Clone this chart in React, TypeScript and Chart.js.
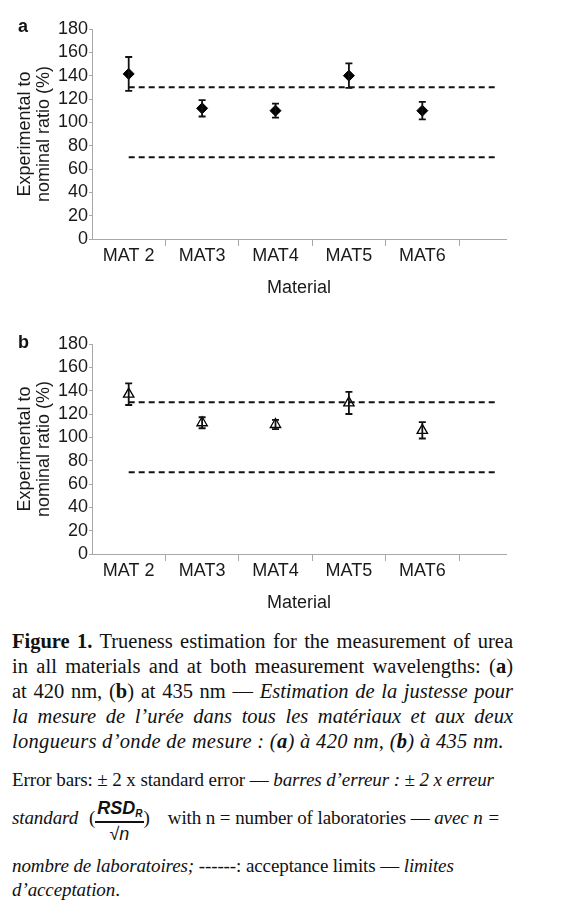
import React, { useEffect, useRef } from 'react';
import { Chart, registerables } from 'chart.js';

Chart.register(...registerables);

// ---- data ----
const categories = ['MAT 2', 'MAT3', 'MAT4', 'MAT5', 'MAT6'];
const meansA = [141.5, 112, 110, 140, 110];
const errorsA = [14.5, 7, 6, 10.5, 7.5];
const meansB = [137, 112.5, 111, 129.5, 106];
const errorsB = [9.3, 4.7, 4, 9.5, 7];
const acceptanceLimits = [130, 70];
const yMin = 0;
const yMax = 180;
const yStep = 20;
const xMax = 5.64;

const SANS = "'Liberation Sans', Arial, sans-serif";
const SERIF = "'Liberation Serif', 'Times New Roman', serif";
const AXIS_GREY = '#a8a8a8';

const errorBarPlugin = {
  id: 'errorBars',
  afterDatasetsDraw(chart: any) {
    const ctx = chart.ctx;
    const xs = chart.scales.x;
    const ys = chart.scales.y;
    chart.data.datasets.forEach((ds: any) => {
      if (!ds.errors) return;
      ds.data.forEach((p: any, i: number) => {
        const x = xs.getPixelForValue(p.x);
        const yt = ys.getPixelForValue(p.y + ds.errors[i]);
        const yb = ys.getPixelForValue(p.y - ds.errors[i]);
        ctx.save();
        ctx.strokeStyle = '#111';
        ctx.lineWidth = 1.8;
        ctx.beginPath();
        ctx.moveTo(x, yt);
        ctx.lineTo(x, yb);
        ctx.moveTo(x - 3.5, yt);
        ctx.lineTo(x + 3.5, yt);
        ctx.moveTo(x - 3.5, yb);
        ctx.lineTo(x + 3.5, yb);
        ctx.stroke();
        ctx.restore();
      });
    });
  },
};

function makeConfig(means: number[], errors: number[], filled: boolean): any {
  const points = categories.map((_, i) => ({ x: i + 0.5, y: means[i] }));
  const limitSets = acceptanceLimits.map((v) => ({
    type: 'line',
    data: [
      { x: 0.5, y: v },
      { x: categories.length + 0.5, y: v },
    ],
    borderColor: '#111',
    borderWidth: 2,
    borderDash: [6, 4],
    pointRadius: 0,
    fill: false,
  }));
  const half: number[] = [];
  for (let i = 0; i < categories.length; i++) half.push(i + 0.5);
  const whole: number[] = [];
  for (let i = 1; i <= categories.length; i++) whole.push(i);
  const tickVals = [...half, ...whole].sort((a, b) => a - b);
  return {
    type: 'scatter',
    data: {
      datasets: [
        ...limitSets,
        {
          type: 'scatter',
          data: points,
          errors,
          pointStyle: filled ? 'rectRot' : 'triangle',
          pointRadius: filled ? 5.5 : 6,
          pointBackgroundColor: filled ? '#000' : 'rgba(255,255,255,0)',
          pointBorderColor: '#000',
          pointBorderWidth: filled ? 1 : 1.3,
        },
      ],
    },
    options: {
      animation: false,
      responsive: false,
      maintainAspectRatio: false,
      layout: { padding: { top: 29, right: 61, bottom: 11, left: 0 } },
      plugins: { legend: { display: false }, tooltip: { enabled: false } },
      scales: {
        x: {
          type: 'linear',
          min: 0,
          max: xMax,
          afterBuildTicks: (axis: any) => {
            axis.ticks = tickVals.map((v) => ({ value: v }));
          },
          afterFit: (scale: any) => {
            scale.height = 60;
          },
          ticks: {
            autoSkip: false,
            maxRotation: 0,
            padding: -1,
            color: '#1a1a1a',
            font: { family: SANS, size: 18 },
            callback: (v: number) => {
              const idx = v - 0.5;
              return Number.isInteger(idx) && categories[idx] ? categories[idx] : '';
            },
          },
          grid: {
            drawOnChartArea: false,
            drawTicks: true,
            tickLength: 7,
            tickWidth: 1,
            tickColor: (ctx: any) =>
              ctx.tick && Number.isInteger(ctx.tick.value) ? AXIS_GREY : 'rgba(0,0,0,0)',
          },
          border: { display: true, color: AXIS_GREY, width: 1 },
          title: {
            display: true,
            text: 'Material',
            color: '#1a1a1a',
            font: { family: SANS, size: 18, lineHeight: 1.2 },
            padding: { top: 0, bottom: 0 },
          },
        },
        y: {
          type: 'linear',
          min: yMin,
          max: yMax,
          afterFit: (scale: any) => {
            scale.width = 92;
          },
          ticks: {
            stepSize: yStep,
            autoSkip: false,
            padding: 1,
            color: '#1a1a1a',
            font: { family: SANS, size: 18, lineHeight: 1 },
          },
          grid: {
            drawOnChartArea: false,
            drawTicks: true,
            tickLength: 3,
            tickColor: AXIS_GREY,
          },
          border: { display: true, color: AXIS_GREY, width: 1 },
          title: {
            display: true,
            text: ['Experimental to', 'nominal ratio (%)'],
            color: '#1a1a1a',
            font: { family: SANS, size: 18, lineHeight: 1.05 },
            padding: { top: 15.5, bottom: 0 },
          },
        },
      },
    },
    plugins: [errorBarPlugin],
  };
}

function ChartPanel({ means, errors, filled, top, letter }: any) {
  const ref = useRef<HTMLCanvasElement | null>(null);
  useEffect(() => {
    if (!ref.current) return;
    const chart = new Chart(ref.current, makeConfig(means, errors, filled));
    return () => chart.destroy();
  }, []);
  return (
    <div style={{ position: 'absolute', left: 0, top, width: 567, height: 310 }}>
      <canvas ref={ref} width={567} height={310} style={{ display: 'block' }} />
      <div
        style={{
          position: 'absolute',
          left: 18,
          top: letter === 'a' ? 16 : 17,
          fontFamily: SANS,
          fontWeight: 'bold',
          fontSize: 18,
          lineHeight: '20px',
          color: '#111',
        }}
      >
        {letter}
      </div>
    </div>
  );
}

const lineJ: React.CSSProperties = {
  height: 25,
  lineHeight: '25px',
  whiteSpace: 'nowrap',
  textAlign: 'justify',
  textAlignLast: 'justify' as any,
};

const para2: React.CSSProperties = {
  position: 'absolute',
  left: 12,
  fontFamily: SERIF,
  fontSize: 19,
  letterSpacing: -0.1,
  lineHeight: '25px',
  whiteSpace: 'nowrap',
};

export default function App() {
  return (
    <div
      style={{
        position: 'absolute',
        left: 0,
        top: 0,
        width: 567,
        height: 907,
        background: '#fff',
        color: '#111',
      }}
    >
      <ChartPanel means={meansA} errors={errorsA} filled={true} top={0} letter="a" />
      <ChartPanel means={meansB} errors={errorsB} filled={false} top={315} letter="b" />

      <div
        style={{
          position: 'absolute',
          left: 12,
          top: 629,
          width: 501,
          fontFamily: SERIF,
          fontSize: 20.5,
        }}
      >
        <div style={lineJ}>
          <b>Figure 1.</b> Trueness estimation for the measurement of urea
        </div>
        <div style={lineJ}>
          in all materials and at both measurement wavelengths: (<b>a</b>)
        </div>
        <div style={lineJ}>
          at 420 nm, (<b>b</b>) at 435 nm — <i>Estimation de la justesse pour</i>
        </div>
        <div style={{ ...lineJ, fontStyle: 'italic' }}>
          la mesure de l’urée dans tous les matériaux et aux deux
        </div>
        <div
          style={{
            height: 25,
            lineHeight: '25px',
            whiteSpace: 'nowrap',
            fontStyle: 'italic',
            letterSpacing: 0.3,
          }}
        >
          longueurs d’onde de mesure : (<b>a</b>) à 420 nm, (<b>b</b>) à 435 nm.
        </div>
      </div>

      <div style={{ ...para2, top: 767 }}>
        Error bars: ± 2 x standard error — <i>barres d’erreur : ± 2 x erreur</i>
      </div>

      <div
        style={{
          position: 'absolute',
          left: 12,
          top: 797,
          height: 48,
          display: 'flex',
          alignItems: 'center',
          fontFamily: SERIF,
          fontSize: 19,
          letterSpacing: -0.1,
          whiteSpace: 'nowrap',
        }}
      >
        <span style={{ fontStyle: 'italic', position: 'relative', top: -3 }}>standard</span>
        <span style={{ marginLeft: 11, position: 'relative', top: -3 }}>(</span>
        <span
          style={{
            display: 'inline-flex',
            flexDirection: 'column',
            alignItems: 'center',
            fontFamily: SANS,
            fontStyle: 'italic',
            letterSpacing: 0,
          }}
        >
          <span
            style={{
              fontSize: 18,
              lineHeight: '20px',
              fontWeight: 600,
              borderBottom: '2.5px solid #111',
              padding: '0 1px 0 2px',
            }}
          >
            RSD<span style={{ fontSize: 10, position: 'relative', top: 3 }}>R</span>
          </span>
          <span style={{ fontSize: 18, lineHeight: '22px' }}>√n</span>
        </span>
        <span style={{ position: 'relative', top: -3 }}>)</span>
        <span style={{ marginLeft: 18, position: 'relative', top: -3 }}>
          with n = number of laboratories —&nbsp;
        </span>
        <i style={{ position: 'relative', top: -3 }}>avec n =</i>
      </div>

      <div style={{ ...para2, top: 853 }}>
        <i>nombre de laboratoires;</i> ------: acceptance limits — <i>limites</i>
      </div>
      <div style={{ ...para2, top: 877 }}>
        <i>d’acceptation</i>.
      </div>
    </div>
  );
}
